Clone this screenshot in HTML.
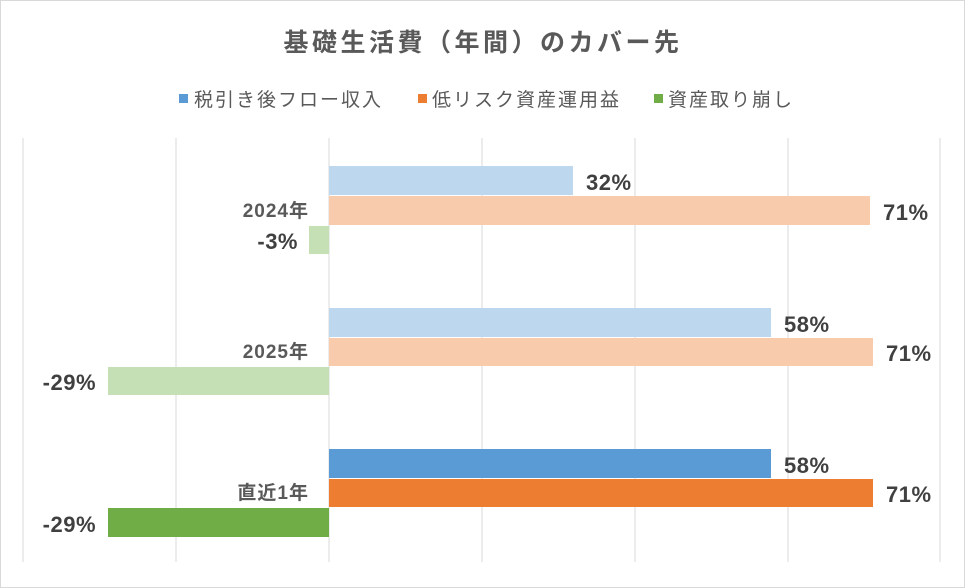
<!DOCTYPE html>
<html><head><meta charset="utf-8"><style>
body{margin:0;background:#fff;}
svg{display:block;font-family:"Liberation Sans","Noto Sans CJK JP",sans-serif;}
</style></head><body>
<svg width="965" height="588" viewBox="0 0 965 588">
<rect x="0.5" y="0.5" width="964" height="587" fill="#fff" stroke="#d9d9d9"/>
<text x="483" y="51" text-anchor="middle" font-size="25" font-weight="bold" fill="#595959" letter-spacing="3.5">基礎生活費（年間）のカバー先</text>
<g font-size="19" fill="#595959" letter-spacing="2">
<rect x="179" y="94" width="9" height="9" fill="#5B9BD5"/><text x="194" y="106">税引き後フロー収入</text>
<rect x="418" y="94" width="9" height="9" fill="#ED7D31"/><text x="432" y="106">低リスク資産運用益</text>
<rect x="654" y="94" width="9" height="9" fill="#70AD47"/><text x="668" y="106">資産取り崩し</text>
</g>
<g stroke="#d9d9d9" stroke-width="1">
<line x1="23" y1="138" x2="23" y2="562"/><line x1="176" y1="138" x2="176" y2="562"/>
<line x1="329" y1="138" x2="329" y2="562"/><line x1="482" y1="138" x2="482" y2="562"/>
<line x1="635" y1="138" x2="635" y2="562"/><line x1="788" y1="138" x2="788" y2="562"/>
<line x1="940" y1="138" x2="940" y2="562"/>
</g>
<rect x="329" y="166" width="244" height="29" fill="#BDD7EE"/>
<rect x="329" y="196" width="541" height="29" fill="#F8CBAD"/>
<rect x="309" y="226" width="20" height="28" fill="#C5E0B4"/>
<rect x="329" y="308" width="442" height="29" fill="#BDD7EE"/>
<rect x="329" y="338" width="544" height="28" fill="#F8CBAD"/>
<rect x="108" y="367" width="221" height="28" fill="#C5E0B4"/>
<rect x="329" y="449" width="442" height="29" fill="#5B9BD5"/>
<rect x="329" y="479" width="544" height="28" fill="#ED7D31"/>
<rect x="108" y="508" width="221" height="29" fill="#70AD47"/>
<g font-size="22" font-weight="bold" fill="#404040" letter-spacing="0.5">
<text x="586" y="190">32%</text><text x="883" y="220">71%</text><text x="298" y="249" text-anchor="end">-3%</text>
<text x="784" y="332">58%</text><text x="886" y="361">71%</text><text x="96" y="390" text-anchor="end">-29%</text>
<text x="784" y="473">58%</text><text x="886" y="502">71%</text><text x="96" y="532" text-anchor="end">-29%</text>
</g>
<g font-size="19" font-weight="bold" fill="#595959" text-anchor="end" letter-spacing="1">
<text x="309" y="217">2024年</text><text x="309" y="358">2025年</text><text x="309" y="499">直近1年</text>
</g>
</svg>
</body></html>
